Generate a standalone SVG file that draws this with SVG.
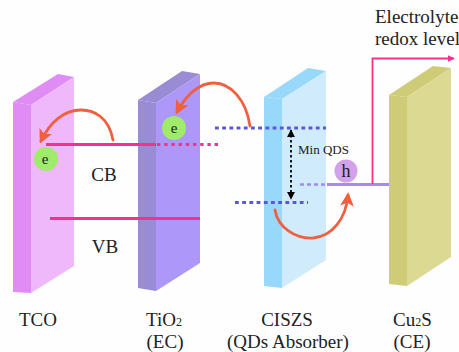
<svg xmlns="http://www.w3.org/2000/svg" width="459" height="352" viewBox="0 0 459 352">
<defs>
<marker id="oh" viewBox="0 0 10 10" refX="8" refY="5" markerWidth="5" markerHeight="5" orient="auto-start-reverse" markerUnits="strokeWidth"><path d="M0 0L10 5L0 10L2.5 5Z" fill="#f0603f"/></marker>
<marker id="ph" viewBox="0 0 10 10" refX="9" refY="5" markerWidth="4" markerHeight="4" orient="auto" markerUnits="strokeWidth"><path d="M0 0L10 5L0 10Z" fill="#f5308f"/></marker>
<marker id="bh" viewBox="0 0 10 10" refX="9" refY="5" markerWidth="4.600" markerHeight="4.600" orient="auto-start-reverse" markerUnits="strokeWidth"><path d="M0 0L10 5L0 10Z" fill="#000"/></marker>
</defs>
<style>
text{font-family:"Liberation Serif","Times New Roman",serif;fill:#222}
.l{font-size:19px}
.c{text-anchor:middle}
.o{fill:none;stroke:#f0603f;stroke-width:2.800;stroke-linecap:round}
.p{fill:none;stroke:#f5308f;stroke-width:2.800}
.d{fill:none;stroke:#5a55e0;stroke-width:2.800;stroke-dasharray:3.800 3.400}
.pd{fill:none;stroke:#f5308f;stroke-width:2.800;stroke-dasharray:3.400 3.800}
</style>
<rect width="459" height="352" fill="#fefefe"/>
<g id="tco">
<path d="M13 102L58 74L74 77L31 105Z" fill="#e08cf5"/>
<path d="M13 102L31 105V293L13 292Z" fill="#e08cf5"/>
<path d="M31 105L74 77V266L31 293Z" fill="#efb8fb"/>
<text class="l" x="38" y="326" text-anchor="middle">TCO</text>
</g>
<g id="tio2">
<path d="M138 100L182 71L200 74L156 103Z" fill="#9a8cd4"/>
<path d="M138 100L156 103V291L138 288Z" fill="#9a8cd4"/>
<path d="M156 103L200 74V263L156 291Z" fill="#ad98fa"/>
<text class="l" x="146" y="326">TiO<tspan font-size="12">2</tspan></text>
<text class="l" x="165" y="348" text-anchor="middle">(EC)</text>
</g>
<g id="ciszs">
<path d="M264 97L308 68L326 71L282 99Z" fill="#98d8fb"/>
<path d="M264 97L282 99V288L264 286Z" fill="#98d8fb"/>
<path d="M282 99L326 71V260L282 288Z" fill="#d0ecfc"/>
<text class="l" x="287" y="326" text-anchor="middle">CISZS</text>
<text class="l" x="288" y="348" text-anchor="middle">(QDs Absorber)</text>
</g>
<g id="cu2s">
<path d="M389 95L433 66L451 68L407 97Z" fill="#cfcc78"/>
<path d="M389 95L407 97V286L389 284Z" fill="#cfcc78"/>
<path d="M407 97L451 68V257L407 286Z" fill="#dcd993"/>
<text class="l" x="393" y="326">Cu<tspan font-size="12">2</tspan>S</text>
<text class="l" x="412" y="348" text-anchor="middle">(CE)</text>
</g>
<g id="connectors">
<path class="p" d="M46 144.500H156"/>
<path class="pd" d="M157 144.500H221"/>
<path class="p" d="M50 218.500H200"/>
<path class="d" d="M215 128H326"/>
<path class="d" d="M235 202.500H308"/>
<path d="M300 184.500H325" fill="none" stroke="#a38bf0" stroke-width="2.400" stroke-dasharray="4 3"/>
<path d="M327 184.500H389" fill="none" stroke="#a38bf0" stroke-width="2.800"/>
<path d="M372.500 184V58.500H454" fill="none" stroke="#f5308f" stroke-width="1.800" marker-end="url(#ph)"/>
<path d="M291 130V199" fill="none" stroke="#000" stroke-width="1.800" stroke-dasharray="2.500 2.500" marker-start="url(#bh)" marker-end="url(#bh)"/>
<path class="o" d="M113 140C109 118 95 110 81 110C64 110 50 122 41 141" marker-end="url(#oh)"/>
<path class="o" d="M250 126C246 99 230 83 214 83C199 83 186 95 177 112" marker-end="url(#oh)"/>
<path class="o" d="M275 210C278 228 296 239 313 238C333 236 346 218 348 195" marker-end="url(#oh)"/>
</g>
<g id="electron-tco"><circle cx="46" cy="159" r="12" fill="#a0ea6c"/><text x="45" y="164" font-size="15" class="c">e</text></g>
<g id="electron-tio2"><circle cx="174" cy="128" r="12" fill="#a0ea6c"/><text x="174" y="133" font-size="15" class="c">e</text></g>
<g id="hole"><circle cx="346" cy="171" r="11.500" fill="#d3a0ea"/><text x="346" y="177" font-size="18" class="c">h</text></g>
<g id="labels">
<text class="l c" x="104" y="181">CB</text>
<text class="l c" x="105" y="253">VB</text>
<text x="298" y="154" font-size="13">Min QDS</text>
<text class="l" x="375" y="23">Electrolyte</text>
<text class="l" x="375" y="45">redox level</text>
</g>
</svg>
